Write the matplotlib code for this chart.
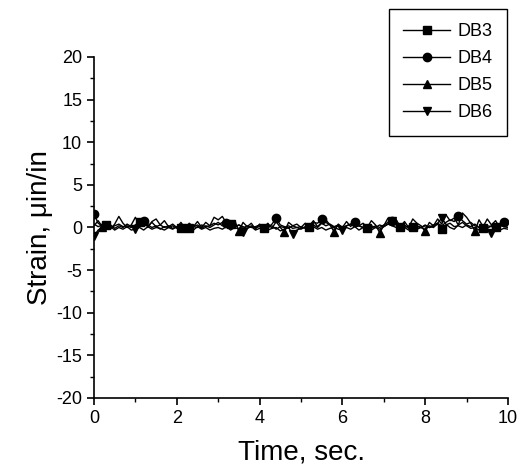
import numpy as np
import matplotlib.pyplot as plt

plt.rcParams['font.family'] = ['Liberation Sans', 'DejaVu Sans']
plt.rcParams['axes.unicode_minus'] = False

# time axis, 0.1 s sampling
time = np.arange(101) * 0.1

db3 = [0.4, 0.1, 0.3, 0.3, 0.0, 0.2, 0.4, 0.1, 0.2, 0.0,
       0.3, 0.7, 0.5, 0.2, 0.6, 0.1, 0.3, 0.0, 0.2, -0.1,
       0.1, -0.1, 0.2, -0.1, 0.1, 0.3, -0.1, 0.2, 0.0, 0.3,
       0.6, 0.2, 0.4, 0.4, 0.1, 0.3, -0.1, 0.2, 0.0, 0.1,
       0.3, -0.1, 0.0, 0.2, -0.2, 0.1, 0.0, 0.2, -0.1, 0.0,
       0.1, -0.1, 0.1, 0.3, 0.0, 0.5, 0.2, 0.4, 0.1, 0.3,
       0.0, 0.2, 0.4, 0.1, 0.2, 0.0, -0.1, 0.2, 0.0, 0.3,
       0.1, 0.4, 0.2, 0.0, 0.0, 0.3, -0.1, 0.1, 0.2, 0.0,
       0.3, 0.0, 0.1, 0.4, -0.2, 0.3, 0.5, 0.1, 0.2, 0.0,
       0.3, 0.1, 0.4, 0.0, -0.1, 0.2, 0.1, 0.0, 0.3, 0.1,
       0.0]
db4 = [1.6, 0.5, 0.2, 0.0, 0.3, -0.1, 0.2, 0.0, 0.4, 0.1,
       0.2, 0.6, 0.8, 0.3, 0.0, 0.2, -0.2, 0.1, 0.0, 0.2,
       -0.1, 0.0, 0.2, -0.2, 0.1, 0.0, 0.3, 0.1, 0.2, 0.5,
       0.3, 0.6, 0.5, 0.2, 0.0, 0.3, 0.1, -0.1, 0.2, 0.0,
       0.1, 0.3, 0.0, 0.4, 1.1, 0.3, 0.1, -0.1, 0.2, 0.0,
       -0.2, 0.1, 0.3, 0.6, 0.5, 1.0, 0.6, 0.3, 0.0, 0.2,
       -0.1, 0.2, 0.4, 0.6, 0.2, 0.0, 0.1, -0.1, 0.2, 0.0,
       0.3, 0.6, 0.8, 0.4, 0.1, 0.0, 0.2, -0.2, 0.1, 0.0,
       0.2, 0.0, 0.3, 0.5, 0.2, 0.6, 0.9, 0.7, 1.3, 0.8,
       0.4, 0.6, 0.2, 0.0, 0.3, -0.1, 0.2, 0.4, 0.1, 0.6,
       0.3]
db5 = [0.2, 0.8, 0.1, 0.6, -0.2, 0.4, 1.3, 0.5, 0.0, 0.3,
       1.2, 0.2, 0.9, 0.0, 0.7, 1.0, 0.3, 0.8, 0.1, 0.4,
       0.0, 0.6, -0.1, 0.5, 0.1, 0.7, 0.0, 0.6, 0.2, 1.2,
       0.9, 1.3, 0.5, 0.2, 0.8, -0.4, 0.6, 0.1, 0.5, -0.2,
       0.4, 0.0, 0.5, -0.1, 0.7, 0.0, -0.5, 0.6, 0.2, 0.4,
       0.0, 0.5, 0.2, 0.8, 0.1, 0.6, 0.9, 0.3, -0.5, 0.4,
       0.0, 0.7, 0.1, 0.9, 0.2, 0.5, 0.0, 0.8, 0.3, -0.6,
       0.2, 1.1, 0.4, 0.9, 0.1, 0.7, 0.0, 1.0, 0.5, 0.2,
       -0.4, 0.6, 0.2, 1.0, 0.4, 1.5, 0.8, 1.1, 0.3, 1.7,
       1.2, 0.5, -0.4, 0.9, 0.1, 1.0, 0.3, 0.8, 0.0, 0.6,
       0.2]
db6 = [-1.0, -0.3, 0.0, -0.2, 0.1, -0.3, 0.0, -0.2, 0.1, -0.3,
       -0.2, 0.0, -0.3, 0.1, -0.2, 0.0, -0.1, -0.3, 0.0, -0.2,
       0.1, -0.3, -0.1, 0.0, -0.3, 0.1, -0.2, 0.0, -0.3, -0.1,
       0.0, -0.2, 0.1, -0.3, 0.0, -0.2, -0.5, -0.1, 0.1, -0.3,
       -0.1, 0.0, -0.3, -0.1, 0.0, -0.4, -0.2, 0.0, -0.8, -0.3,
       -0.1, 0.0, -0.3, 0.1, -0.2, 0.0, -0.3, -0.1, 0.0, -0.2,
       -0.3, 0.0, -0.2, 0.1, -0.3, 0.0, -0.1, -0.3, 0.0, -0.2,
       0.1, 0.4, 0.8, 0.3, -0.1, 0.0, -0.3, 0.1, -0.2, 0.0,
       -0.3, 0.2, 0.0, 0.5, 1.1, 0.4, 0.0, -0.2, 0.3, 0.6,
       0.2, -0.1, 0.0, -0.3, 0.1, -0.2, -0.6, 0.0, -0.3, -0.1,
       -0.2]

labels = ['DB3', 'DB4', 'DB5', 'DB6']
markers = ['s', 'o', '^', 'v']
# sample indices where symbols are drawn
mark_idx = [[3, 11, 21, 23, 33, 41, 52, 66, 74, 77, 84, 94, 97],
            [0, 12, 32, 44, 55, 63, 72, 88, 99],
            [2, 35, 46, 58, 69, 80, 92],
            [0, 10, 36, 48, 60, 72, 84, 96]]

fig = plt.figure(figsize=(5.31, 4.66), dpi=100)
ax = fig.add_axes([94/531, 68/466, 414/531, 341/466])

for y, lab, m, mi in zip([db3, db4, db5, db6], labels, markers, mark_idx):
    ax.plot(time, y, color='black', lw=1.0, marker=m, markersize=6,
            markevery=mi, label=lab)

ax.set_xlim(0, 10)
ax.set_ylim(-20, 20)
ax.set_xticks(np.arange(0, 11, 2))
ax.set_xticks(np.arange(1, 10, 2), minor=True)
ax.set_yticks(np.arange(-20, 21, 5))
ax.set_yticks(np.arange(-17.5, 20, 5), minor=True)
ax.spines['top'].set_visible(False)
ax.spines['right'].set_visible(False)
for s in ['left', 'bottom']:
    ax.spines[s].set_linewidth(1.2)
ax.tick_params(which='major', direction='out', length=5, width=1.2, labelsize=13)
ax.tick_params(which='minor', direction='out', length=3, width=1.0)

ax.set_xlabel('Time, sec.', fontsize=20, labelpad=9)
ax.set_ylabel('Strain, \u03bcin/in', fontsize=20, labelpad=2)

leg = fig.legend(loc='upper right', bbox_to_anchor=(507/531, 1 - 9/466),
                 bbox_transform=fig.transFigure, fontsize=13, fancybox=False,
                 edgecolor='black', framealpha=1, handlelength=2.6,
                 handletextpad=0.4, labelspacing=0.55, borderaxespad=0,
                 borderpad=0.8)
leg.get_frame().set_linewidth(1.0)

fig.savefig('out.png', dpi=100)
